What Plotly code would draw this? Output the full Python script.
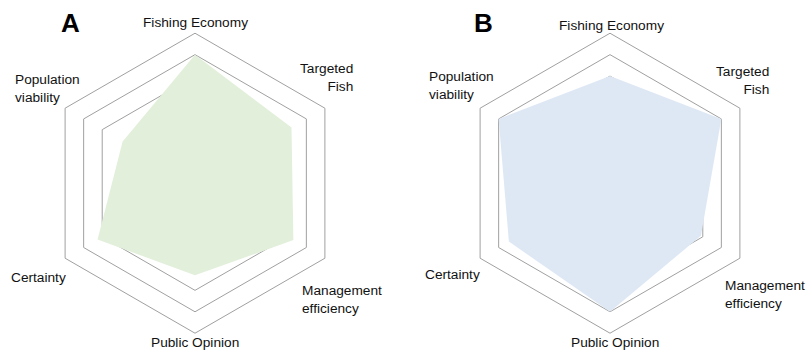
import plotly.graph_objects as go

# Criteria scored on each radar (clockwise from the top)
categories = ["Fishing Economy", "Targeted Fish", "Management efficiency",
              "Public Opinion", "Certainty", "Population viability"]

# Scores for scenario A and scenario B
scores_a = [6.0, 5.2, 5.3, 4.3, 5.25, 3.9]
scores_b = [5.0, 6.0, 4.9, 6.0, 5.45, 6.0]

ring_values = [5, 6, 7]
radial_max = 7

fill_a = "#e2efda"
fill_b = "#dee8f5"
grid_color = "#a0a0a0"
label_font = dict(family="Liberation Sans, Arial, sans-serif", size=13.7, color="#111111")

fig = go.Figure()
fig.add_trace(go.Scatterpolar(
    r=scores_a, theta=categories, subplot="polar",
    mode="lines", line=dict(width=0, color=fill_a),
    fill="toself", fillcolor=fill_a, hoverinfo="r+theta", showlegend=False,
))
fig.add_trace(go.Scatterpolar(
    r=scores_b, theta=categories, subplot="polar2",
    mode="lines", line=dict(width=0, color=fill_b),
    fill="toself", fillcolor=fill_b, hoverinfo="r+theta", showlegend=False,
))

def polar_style(x0, x1):
    return dict(
        domain=dict(x=[x0, x1], y=[0.053, 0.906]),
        gridshape="linear",
        bgcolor="rgba(0,0,0,0)",
        radialaxis=dict(range=[0, radial_max], tickvals=ring_values,
                        showticklabels=False, ticks="", showline=False,
                        gridcolor=grid_color, gridwidth=1),
        angularaxis=dict(categoryorder="array", categoryarray=categories,
                         rotation=90, direction="clockwise",
                         showgrid=False, showticklabels=False, ticks="",
                         showline=True, linecolor=grid_color, linewidth=1),
    )

fig.update_layout(
    width=809, height=352,
    margin=dict(l=0, r=0, t=0, b=0),
    paper_bgcolor="white",
    polar=polar_style(45 / 809, 345 / 809),
    polar2=polar_style(460 / 809, 760 / 809),
)

def add_label(text, x, y, xanchor="center", align="center"):
    fig.add_annotation(text=text, x=x / 809, y=1 - y / 352, xref="paper", yref="paper",
                       xanchor=xanchor, yanchor="middle", align=align,
                       showarrow=False, font=label_font)

# Axis labels for panel A
add_label("Fishing Economy", 195, 22)
add_label("Targeted<br>Fish", 355, 78, xanchor="right", align="right")
add_label("Population<br>viability", 13, 88, xanchor="left", align="left")
add_label("Certainty", 9, 277, xanchor="left", align="left")
add_label("Management<br>efficiency", 300, 299, xanchor="left", align="left")
add_label("Public Opinion", 195, 342)

# Axis labels for panel B
add_label("Fishing Economy", 611, 25)
add_label("Targeted<br>Fish", 771, 80, xanchor="right", align="right")
add_label("Population<br>viability", 427, 85, xanchor="left", align="left")
add_label("Certainty", 423, 274, xanchor="left", align="left")
add_label("Management<br>efficiency", 807, 294, xanchor="right", align="left")
add_label("Public Opinion", 615, 342)

# Panel letters
for letter, x in (("A", 70), ("B", 483)):
    fig.add_annotation(text="<b>%s</b>" % letter, x=x / 809, y=1 - 23 / 352,
                       xref="paper", yref="paper", xanchor="center", yanchor="middle",
                       showarrow=False,
                       font=dict(family="Liberation Sans, Arial, sans-serif", size=26, color="black"))

fig.write_html("out.html")
